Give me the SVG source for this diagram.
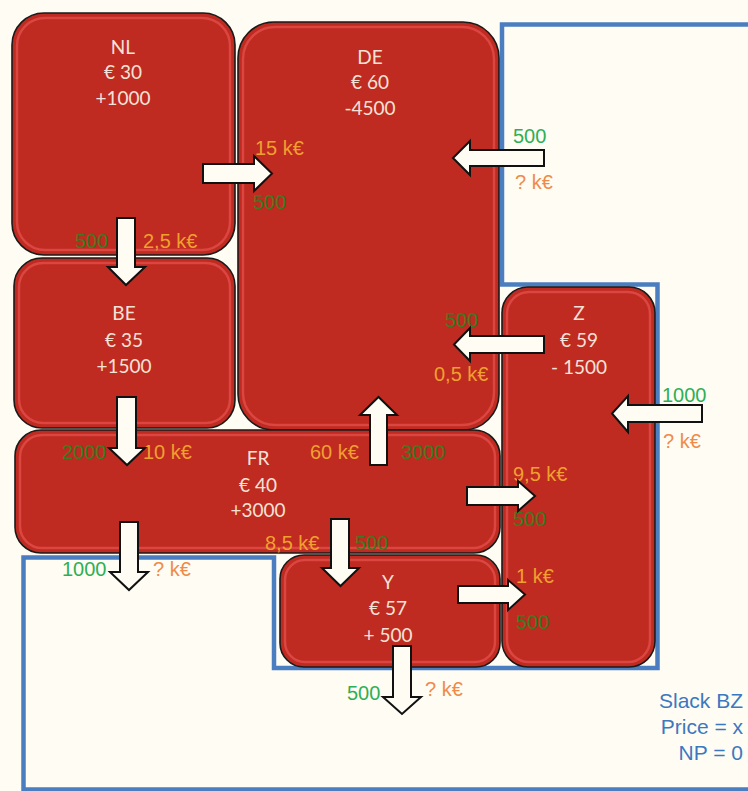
<svg xmlns="http://www.w3.org/2000/svg" width="748" height="791" viewBox="0 0 748 791">
<style>
.bg{fill:#FFFDF3}
.zone{fill:none;stroke:#4A7EC0;stroke-width:4.5}
.box{fill:#BF2A21;stroke:#1A1A1A;stroke-width:1.6}
.gloss{fill:none;stroke:#F25C5C;stroke-width:2.5;opacity:0.55}
.nt{font-family:Lato,"Open Sans",sans-serif;font-size:19px;fill:#F6E2D6;text-anchor:middle}
.lb{font-family:"Liberation Sans",Arial,sans-serif;font-size:20px}
.dg{fill:#3B7A1E}
.bg2{fill:#2EAF55}
.or{fill:#F0A02E}
.sa{fill:#F08A4C}
.arr{fill:#FFFDF3;stroke:#111;stroke-width:2;stroke-linejoin:miter}
.zt{font-family:"Liberation Sans",Arial,sans-serif;font-size:21px;fill:#3C78C0;text-anchor:end}
</style>
<rect class="bg" x="0" y="0" width="748" height="791"/>
<g id="slack-zone">
<path class="zone" d="M760,24.5 H502 V284.5 H657.5 V668 H274 V557.5 H23.5 V789.5 H760"/>
<text class="zt" x="743" y="708">Slack BZ</text>
<text class="zt" x="743" y="734">Price = x</text>
<text class="zt" x="743" y="760">NP = 0</text>
</g>
<g id="node-NL">
<rect class="box" x="12" y="13" width="223" height="242" rx="32"/>
<rect class="gloss" x="17" y="18" width="213" height="232" rx="28"/>
<text class="nt" x="123" y="54">NL</text>
<text class="nt" x="123" y="79">€ 30</text>
<text class="nt" x="123" y="105">+1000</text>
</g>
<g id="node-DE">
<rect class="box" x="238" y="22" width="261" height="408" rx="36"/>
<rect class="gloss" x="243" y="27" width="251" height="398" rx="32"/>
<text class="nt" x="370" y="64">DE</text>
<text class="nt" x="370" y="89">€ 60</text>
<text class="nt" x="370" y="115">-4500</text>
</g>
<g id="node-BE">
<rect class="box" x="14" y="258" width="221" height="170" rx="28"/>
<rect class="gloss" x="19" y="263" width="211" height="160" rx="24"/>
<text class="nt" x="124" y="320">BE</text>
<text class="nt" x="124" y="347">€ 35</text>
<text class="nt" x="124" y="373">+1500</text>
</g>
<g id="node-FR">
<rect class="box" x="15" y="430" width="485" height="123" rx="26"/>
<rect class="gloss" x="20" y="435" width="475" height="113" rx="22"/>
<text class="nt" x="258" y="465">FR</text>
<text class="nt" x="258" y="492">€ 40</text>
<text class="nt" x="258" y="517">+3000</text>
</g>
<g id="node-Z">
<rect class="box" x="502" y="287" width="153" height="380" rx="26"/>
<rect class="gloss" x="507" y="292" width="143" height="370" rx="22"/>
<text class="nt" x="579" y="320">Z</text>
<text class="nt" x="579" y="347">€ 59</text>
<text class="nt" x="579" y="374">- 1500</text>
</g>
<g id="node-Y">
<rect class="box" x="280" y="555" width="220" height="112" rx="24"/>
<rect class="gloss" x="285" y="560" width="210" height="102" rx="20"/>
<text class="nt" x="388" y="589">Y</text>
<text class="nt" x="388" y="615">€ 57</text>
<text class="nt" x="388" y="642">+ 500</text>
</g>
<g id="connectors">
<g id="labels">
<text class="lb dg" x="75" y="248">500</text>
<text class="lb or" x="143" y="248">2,5 k€</text>
<text class="lb or" x="255" y="155">15 k€</text>
<text class="lb dg" x="253" y="209">500</text>
<text class="lb bg2" x="513" y="143">500</text>
<text class="lb sa" x="515" y="189">? k€</text>
<text class="lb dg" x="445" y="327">500</text>
<text class="lb or" x="434" y="381">0,5 k€</text>
<text class="lb bg2" x="662" y="402">1000</text>
<text class="lb sa" x="663" y="448">? k€</text>
<text class="lb dg" x="62" y="459">2000</text>
<text class="lb or" x="143" y="459">10 k€</text>
<text class="lb or" x="310" y="459">60 k€</text>
<text class="lb dg" x="401" y="459">3000</text>
<text class="lb or" x="513" y="481">9,5 k€</text>
<text class="lb dg" x="513" y="526">500</text>
<text class="lb or" x="265" y="550">8,5 k€</text>
<text class="lb dg" x="355" y="550">500</text>
<text class="lb bg2" x="62" y="576">1000</text>
<text class="lb sa" x="153" y="576">? k€</text>
<text class="lb or" x="516" y="583">1 k€</text>
<text class="lb dg" x="516" y="629">500</text>
<text class="lb bg2" x="347" y="700">500</text>
<text class="lb sa" x="425" y="696">? k€</text>
</g>
<path id="a-NL-DE" class="arr" d="M203,164 H254 V156 L272,173.5 L254,191 V183 H203 Z"/>
<path id="a-NL-BE" class="arr" d="M117,218 H135 V267 H145 L126,285 L108,267 H117 Z"/>
<path id="a-BE-FR" class="arr" d="M117,397 H136 V448 H145 L127,465 L109,448 H117 Z"/>
<path id="a-FR-DE" class="arr" d="M370,465 V415 H360 L378.5,397 L397,415 H387 V465 Z"/>
<path id="a-out-DE" class="arr" d="M544,150 V166 H470 V175 L453,158 L470,141 V150 Z"/>
<path id="a-Z-DE" class="arr" d="M544,336 V353 H470 V361 L454,344.5 L470,328 V336 Z"/>
<path id="a-out-Z" class="arr" d="M702,405 V422 H628 V432 L612,413.5 L628,396 V405 Z"/>
<path id="a-FR-Z" class="arr" d="M467,487 H518 V481 L535,496 L518,511 V505 H467 Z"/>
<path id="a-FR-Y" class="arr" d="M331,519 H349 V568 H359 L340.5,586 L322,568 H331 Z"/>
<path id="a-FR-out" class="arr" d="M120,522 H138 V572 H148 L129,590 L110,572 H120 Z"/>
<path id="a-Y-Z" class="arr" d="M458,586 H508 V580 L525,594.5 L508,610 V603 H458 Z"/>
<path id="a-Y-out" class="arr" d="M393,646 H411 V697 H421 L402,714 L383,697 H393 Z"/>
</g>
</svg>
